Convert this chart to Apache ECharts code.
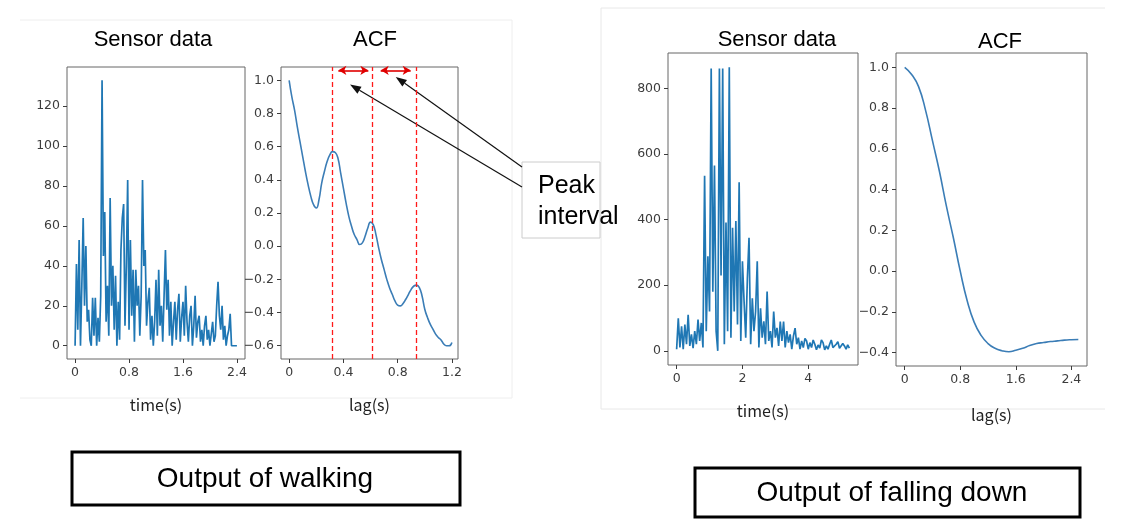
<!DOCTYPE html>
<html>
<head>
<meta charset="utf-8">
<script src="https://cdn.jsdelivr.net/npm/echarts@6/dist/echarts.min.js"></script>
<style>
  html, body { margin: 0; padding: 0; background: #fff; }
  #main { width: 1137px; height: 520px; }
</style>
</head>
<body>
<div id="main"></div>
<script>
// walking: raw sensor samples every 0.02 s
const walkStep = 0.02;
const walkSensor = [
  0, 41, 8, 53, 0, 30, 64, 20, 50, 12, 18, 3, 0, 24, 5, 24, 0, 14, 2, 25,
  133, 45, 67, 12, 30, 5, 74, 20, 40, 8, 35, 0, 22, 3, 48, 64, 71, 10, 40, 83,
  8, 53, 15, 38, 2, 38, 20, 30, 5, 25, 83, 40, 48, 10, 22, 29, 3, 15, 0, 12,
  33, 5, 38, 10, 20, 2, 25, 48, 18, 33, 5, 22, 0, 12, 22, 3, 18, 26, 2, 14,
  22, 5, 30, 12, 2, 15, 20, 0, 10, 25, 4, 12, 15, 2, 8, 0, 10, 15, 3, 8,
  0, 6, 12, 2, 5, 20, 32, 15, 8, 20, 3, 10, 0, 5, 8, 16, 0, 0, 0, 0, 0
];
// walking: autocorrelation every 0.02 s of lag
const walkAcfStep = 0.02;
const walkAcf = [
  1.00, 0.90, 0.82, 0.72, 0.63, 0.54, 0.45, 0.37, 0.30, 0.25,
  0.23, 0.28, 0.38, 0.45, 0.51, 0.55, 0.57, 0.565, 0.53, 0.44,
  0.35, 0.26, 0.18, 0.12, 0.07, 0.04, 0.01, 0.02, 0.06, 0.11,
  0.145, 0.13, 0.07, -0.01, -0.08, -0.14, -0.20, -0.25, -0.29, -0.33,
  -0.355, -0.36, -0.345, -0.32, -0.29, -0.26, -0.24, -0.235, -0.25, -0.30,
  -0.38, -0.43, -0.47, -0.50, -0.53, -0.55, -0.565, -0.59, -0.60, -0.60, -0.58
];
const peakLags = [0.317, 0.611, 0.942];
const peakSpans = [[0.363, 0.584], [0.675, 0.896]];
const peakSpanY = 1.06;
const peakPointers = [[0.449, 0.974], [0.786, 1.02]];

// falling down: raw sensor samples every 0.05 s
const fallStep = 0.05;
const fallSensor = [
  5, 99, 10, 75, 5, 80, 20, 110, 15, 50, 8, 60, 20, 95, 30, 85, 10, 534, 60, 288,
  120, 861, 180, 565, 60, 0, 861, 230, 861, 20, 391, 60, 865, 40, 375, 120, 396, 80, 514, 30,
  273, 150, 40, 220, 345, 20, 160, 60, 120, 273, 10, 130, 40, 90, 20, 181, 30, 60, 10, 120,
  40, 70, 15, 89, 30, 89, 10, 60, 25, 50, 5, 45, 69, 20, 40, 5, 30, 10, 38, 30,
  5, 25, 10, 33, 20, 3, 18, 8, 33, 25, 3, 15, 5, 20, 33, 10, 5, 20, 28, 8,
  3, 22, 15, 5, 18, 8
];
// falling down: autocorrelation every 0.1 s of lag
const fallAcfStep = 0.1;
const fallAcf = [
  1.00, 0.965, 0.905, 0.79, 0.64, 0.49, 0.32, 0.165, 0.00, -0.145,
  -0.25, -0.315, -0.355, -0.378, -0.39, -0.395, -0.388, -0.378, -0.365, -0.355,
  -0.35, -0.345, -0.342, -0.338, -0.336, -0.335
];

// tick values
const walkTimeTicks = [0, 0.8, 1.6, 2.4];
const walkSensorTicks = [0, 20, 40, 60, 80, 100, 120];
const walkLagTicks = [0, 0.4, 0.8, 1.2];
const walkAcfTicks = [-0.6, -0.4, -0.2, 0, 0.2, 0.4, 0.6, 0.8, 1.0];
const fallTimeTicks = [0, 2, 4];
const fallSensorTicks = [0, 200, 400, 600, 800];
const fallLagTicks = [0, 0.8, 1.6, 2.4];
const fallAcfTicks = [-0.4, -0.2, 0, 0.2, 0.4, 0.6, 0.8, 1.0];

const blue = '#1f77b4';
const tickColor = '#3c3c3c';

const toPairs = (values, step) => values.map((v, i) => [+(i * step).toFixed(3), v]);
const plainFmt = v => String(v);
const acfFmt = v => (v < 0 ? '\u2212' : '') + Math.abs(v).toFixed(1);

const grid = (left, top, width, height) => ({
  left, top, width, height,
  show: true,
  borderColor: '#666',
  borderWidth: 1,
  backgroundColor: 'transparent'
});

const axis = (gridIndex, min, max, ticks, fmt, extra) => Object.assign({
  type: 'value',
  gridIndex,
  min,
  max,
  axisLine: { show: false, onZero: false },
  splitLine: { show: false },
  axisTick: { show: true, customValues: ticks, length: 4, lineStyle: { color: tickColor } },
  axisLabel: { customValues: ticks, formatter: fmt, color: tickColor, fontSize: 12.5, fontFamily: 'DejaVu Sans', margin: 7 }
}, extra || {});

const xName = (name, gap) => ({
  name,
  nameLocation: 'middle',
  nameGap: gap,
  nameTextStyle: { fontFamily: 'Noto Sans CJK JP', fontSize: 16, color: '#222' }
});

const lineSeries = (idx, data, extra) => Object.assign({
  type: 'line',
  xAxisIndex: idx,
  yAxisIndex: idx,
  data,
  symbol: 'none',
  showSymbol: false,
  animation: false,
  lineStyle: { color: blue, width: 1.7 },
  emphasis: { disabled: true }
}, extra || {});

const chart = echarts.init(document.getElementById('main'), null, { renderer: 'canvas' });

const option = {
  backgroundColor: '#ffffff',
  animation: false,
  grid: [
    grid(67, 67, 178, 292),
    grid(281, 67, 177, 292),
    grid(668, 53, 190, 312),
    grid(896, 53, 191, 313)
  ],
  xAxis: [
    axis(0, -0.12, 2.52, walkTimeTicks, plainFmt, xName('time(s)', 38)),
    axis(1, -0.06, 1.245, walkLagTicks, plainFmt, xName('lag(s)', 38)),
    axis(2, -0.2625, 5.5125, fallTimeTicks, plainFmt, xName('time(s)', 38)),
    axis(3, -0.125, 2.625, fallLagTicks, plainFmt, xName('lag(s)', 41))
  ],
  yAxis: [
    axis(0, -6.65, 139.65, walkSensorTicks, plainFmt),
    axis(1, -0.68, 1.08, walkAcfTicks, acfFmt),
    axis(2, -43.25, 908.25, fallSensorTicks, plainFmt),
    axis(3, -0.465, 1.07, fallAcfTicks, acfFmt)
  ],
  series: [
    lineSeries(0, toPairs(walkSensor, walkStep)),
    lineSeries(1, toPairs(walkAcf, walkAcfStep), {
      smooth: true,
      lineStyle: { color: '#3b7db6', width: 1.6 },
      markLine: {
        silent: true,
        animation: false,
        symbol: ['none', 'none'],
        label: { show: false },
        data: [
          ...peakLags.map(x => ({ xAxis: x, lineStyle: { color: '#ff1a1a', type: [5, 3], width: 1.3 } })),
          ...peakSpans.map(([a, b]) => [
            { coord: [a, peakSpanY], symbol: 'arrow', symbolSize: [7, 8], lineStyle: { color: '#e00000', type: 'solid', width: 1.6 } },
            { coord: [b, peakSpanY], symbol: 'arrow', symbolSize: [7, 8] }
          ])
        ]
      }
    }),
    lineSeries(2, toPairs(fallSensor, fallStep)),
    lineSeries(3, toPairs(fallAcf, fallAcfStep), { smooth: true, lineStyle: { color: '#3b7db6', width: 1.6 } })
  ]
};

chart.setOption(option);

// annotations around the plots
const text = (x, y, str, font, align) => ({
  type: 'text',
  x, y,
  silent: true,
  style: { text: str, font, fill: '#000', align: align || 'center', verticalAlign: 'middle' }
});

const pointer = (from, to) => {
  const dx = to[0] - from[0];
  const dy = to[1] - from[1];
  const len = Math.sqrt(dx * dx + dy * dy);
  const ux = dx / len, uy = dy / len;
  const hl = 11, hw = 4;
  const bx = to[0] - ux * hl, by = to[1] - uy * hl;
  return [
    { type: 'line', silent: true, shape: { x1: from[0], y1: from[1], x2: bx, y2: by }, style: { stroke: '#111', lineWidth: 1.2 } },
    { type: 'polygon', silent: true, shape: { points: [to, [bx - uy * hw, by + ux * hw], [bx + uy * hw, by - ux * hw]] }, style: { fill: '#111' } }
  ];
};

const tipA = chart.convertToPixel({ gridIndex: 1 }, peakPointers[0]);
const tipB = chart.convertToPixel({ gridIndex: 1 }, peakPointers[1]);

const titleFont = '22px "Liberation Sans", Arial, sans-serif';

chart.setOption({
  graphic: [
    // faint outlines of the two screenshots
    { type: 'polyline', silent: true, shape: { points: [[20, 20], [512, 20], [512, 398], [20, 398]] }, style: { stroke: '#eeeeee', lineWidth: 1, fill: null } },
    { type: 'polyline', silent: true, shape: { points: [[1105, 8], [601, 8], [601, 409], [1105, 409]] }, style: { stroke: '#e8e8e8', lineWidth: 1, fill: null } },

    text(153, 40, 'Sensor data', titleFont),
    text(375, 40, 'ACF', titleFont),
    text(777, 40, 'Sensor data', titleFont),
    text(1000, 42, 'ACF', titleFont),

    // peak interval callout
    { type: 'rect', silent: true, shape: { x: 522, y: 162, width: 78, height: 76 }, style: { fill: '#fff', stroke: '#cccccc', lineWidth: 1 } },
    text(538, 186, 'Peak', '25px "Liberation Sans", Arial, sans-serif', 'left'),
    text(538, 217, 'interval', '25px "Liberation Sans", Arial, sans-serif', 'left'),
    ...pointer([522, 187], tipA),
    ...pointer([522, 167], tipB),

    // caption boxes
    { type: 'rect', silent: true, shape: { x: 72, y: 452, width: 388, height: 53 }, style: { fill: '#fff', stroke: '#000', lineWidth: 3 } },
    text(265, 479, 'Output of walking', '28px "Liberation Sans", Arial, sans-serif'),
    { type: 'rect', silent: true, shape: { x: 695, y: 468, width: 385, height: 49 }, style: { fill: '#fff', stroke: '#000', lineWidth: 3 } },
    text(892, 493, 'Output of falling down', '28px "Liberation Sans", Arial, sans-serif')
  ]
});
</script>
</body>
</html>
